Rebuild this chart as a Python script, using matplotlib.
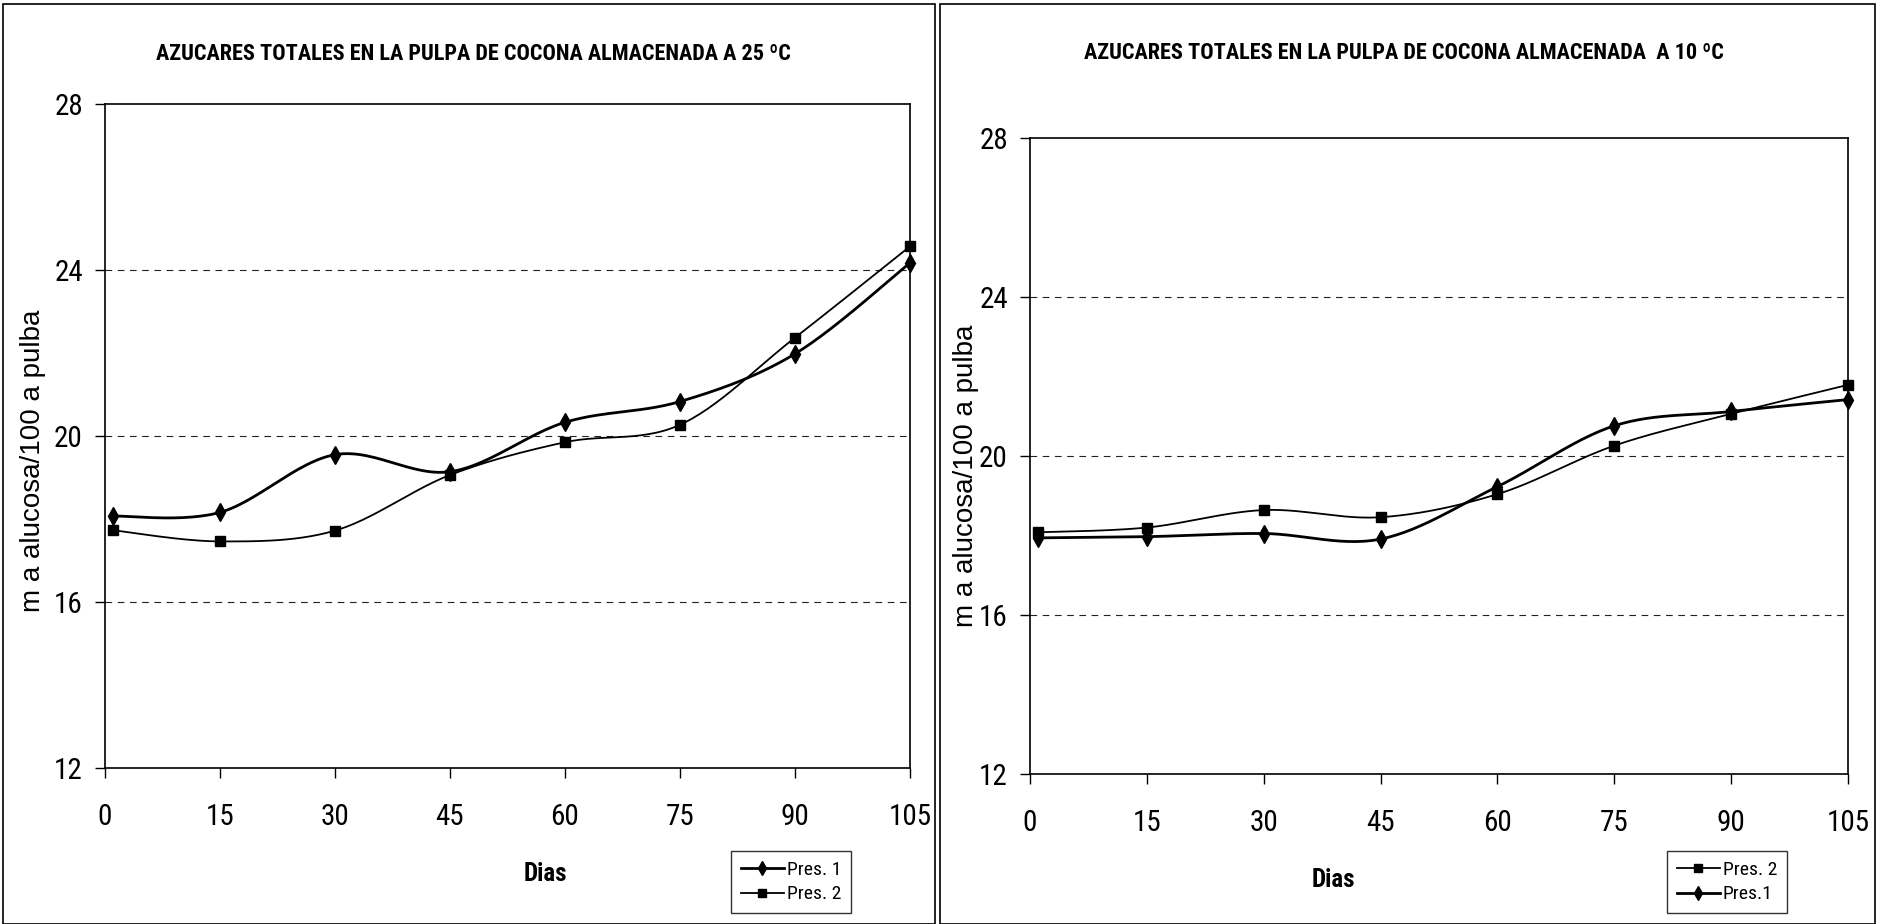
import numpy as np
import matplotlib
matplotlib.use("Agg")
import matplotlib.pyplot as plt
import matplotlib.font_manager as fm
from matplotlib.patches import Rectangle
from matplotlib.lines import Line2D

# ---------------- data ----------------
dias = [1, 15, 30, 45, 60, 75, 90, 105]
x_ticks = [0, 15, 30, 45, 60, 75, 90, 105]
y_ticks = [12, 16, 20, 24, 28]

# 25 °C
pres1_25 = [18.07, 18.16, 19.55, 19.14, 20.33, 20.83, 21.98, 24.17]
pres2_25 = [17.73, 17.46, 17.72, 19.06, 19.85, 20.27, 22.37, 24.57]
# 10 °C
pres2_10 = [18.08, 18.20, 18.64, 18.46, 19.04, 20.26, 21.06, 21.79]
pres1_10 = [17.94, 17.97, 18.05, 17.91, 19.23, 20.76, 21.12, 21.42]

title_25 = "AZUCARES TOTALES EN LA PULPA DE COCONA ALMACENADA A 25 ºC"
title_10 = "AZUCARES TOTALES EN LA PULPA DE COCONA ALMACENADA  A 10 ºC"
ylabel = "m a alucosa/100 a pulba"
xlabel = "Dias"

# ---------------- fonts ----------------
names = {f.name for f in fm.fontManager.ttflist}
narrow = None
for cand in ["Liberation Sans Narrow", "Roboto Condensed", "Open Sans Condensed", "DejaVu Sans Condensed"]:
    if cand in names:
        narrow = cand
        break
if narrow is None:
    narrow = "Liberation Sans"
plt.rcParams['font.family'] = [narrow, 'DejaVu Sans']
wide = ['Liberation Sans', 'DejaVu Sans']


def smooth(x, y, n=30):
    """Excel-like smoothed line (Catmull-Rom via cubic Bezier)."""
    x = np.asarray(x, float)
    y = np.asarray(y, float)
    px, py = [], []
    m = len(x)
    for i in range(m - 1):
        x0, y0 = (x[i - 1], y[i - 1]) if i > 0 else (x[i], y[i])
        x3, y3 = (x[i + 2], y[i + 2]) if i + 2 < m else (x[i + 1], y[i + 1])
        p1 = np.array([x[i], y[i]])
        p2 = np.array([x[i + 1], y[i + 1]])
        c1 = p1 + (p2 - np.array([x0, y0])) / 6.0
        c2 = p2 - (np.array([x3, y3]) - p1) / 6.0
        t = np.linspace(0, 1, n)[:, None]
        pts = ((1 - t) ** 3) * p1 + 3 * ((1 - t) ** 2) * t * c1 + 3 * (1 - t) * t ** 2 * c2 + t ** 3 * p2
        px.extend(pts[:, 0])
        py.extend(pts[:, 1])
    return np.array(px), np.array(py)


W, H = 1878, 924
fig = plt.figure(figsize=(W / 100, H / 100), dpi=100)
fig.patch.set_facecolor("white")

# panel borders
fig.add_artist(Rectangle((3 / W, 0), 932 / W, 920 / H, transform=fig.transFigure,
                         fill=False, edgecolor="black", linewidth=1.2))
fig.add_artist(Rectangle((940 / W, 0), 935 / W, 920 / H, transform=fig.transFigure,
                         fill=False, edgecolor="black", linewidth=1.2))

marker_kw = dict(color="black", markeredgecolor="black", markerfacecolor="black")


def make_panel(rect, series, title, title_xy, ylab_xy, xlab_xy, leg_bbox):
    ax = fig.add_axes(rect)
    ax.set_xlim(0, 105)
    ax.set_ylim(12, 28)
    ax.set_xticks(x_ticks)
    ax.set_yticks(y_ticks)
    for s in ax.spines.values():
        s.set_linewidth(1.2)
        s.set_color("black")
    ax.tick_params(axis="both", direction="out", length=7, width=1, labelsize=21, colors="black")
    ax.tick_params(axis="x", pad=18)
    ax.tick_params(axis="y", pad=9)
    for yv in y_ticks[1:-1]:
        ax.axhline(yv, color="#222222", linestyle=(0, (6, 5)), linewidth=0.8, zorder=1)
    handles = []
    for ys, label, mk, ms, lw in series:
        sx, sy = smooth(dias, ys)
        ax.plot(sx, sy, color="black", linewidth=lw, zorder=3, clip_on=False)
        ax.plot(dias, ys, linestyle="none", marker=mk, markersize=ms, zorder=4, clip_on=False, **marker_kw)
        handles.append(Line2D([], [], color="black", linewidth=lw, marker=mk, markersize=ms * 0.8,
                              markerfacecolor="black", markeredgecolor="black", label=label))
    fig.text(title_xy[0] / W, 1 - title_xy[1] / H, title, ha="center", va="center",
             fontsize=16, fontweight="bold")
    fig.text(ylab_xy[0] / W, 1 - ylab_xy[1] / H, ylabel, rotation=90, ha="center", va="center",
             fontsize=20, family=wide)
    fig.text(xlab_xy[0] / W, 1 - xlab_xy[1] / H, xlabel, ha="center", va="center",
             fontsize=18, fontweight="bold")
    leg = fig.legend(handles=handles, loc="center", bbox_to_anchor=leg_bbox,
                     bbox_transform=fig.transFigure, frameon=True, fancybox=False,
                     edgecolor="black", fontsize=14, handlelength=2.2, handletextpad=0.15,
                     labelspacing=0.35, borderpad=0.5, borderaxespad=0)
    leg.get_frame().set_linewidth(1.0)
    return ax


# left panel: 25 °C
make_panel([105 / W, 1 - 768 / H, 805 / W, 664 / H],
           [(pres1_25, "Pres. 1", "d", 9, 2.0), (pres2_25, "Pres. 2", "s", 6.5, 1.3)],
           title_25, (473, 54), (33, 461), (545, 874), (791 / W, 1 - 882 / H))

# right panel: 10 °C
make_panel([1030 / W, 1 - 774 / H, 818 / W, 636 / H],
           [(pres2_10, "Pres. 2", "s", 6.5, 1.3), (pres1_10, "Pres.1", "d", 9, 2.0)],
           title_10, (1404, 53), (966, 476), (1333, 880), (1727 / W, 1 - 882 / H))

fig.savefig("out.png", dpi=100, facecolor="white")
